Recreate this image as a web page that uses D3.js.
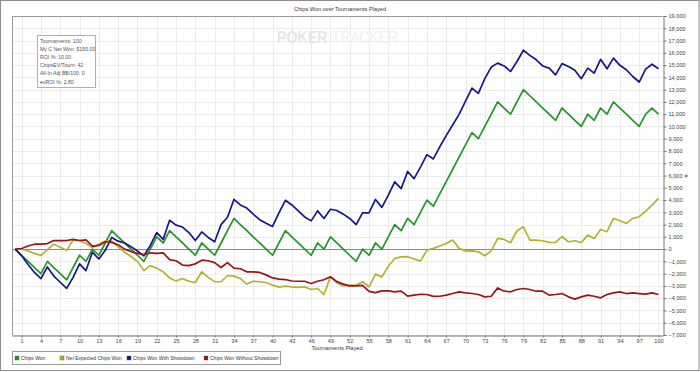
<!DOCTYPE html>
<html>
<head>
<meta charset="utf-8">
<script src="https://cdn.jsdelivr.net/npm/d3@7"></script>
<style>
  body { margin: 0; background: #fff; }
  svg { display: block; font-family: "Liberation Sans", Arial, sans-serif; }
</style>
</head>
<body>
<svg id="chart"></svg>
<script>
// tournaments 0..100
var tournaments = d3.range(0, 101);

var chipsWon = [0, -500, -1000, -1500, -2000, -1000, -1500, -2000, -2500, -1500,
  -500, -1000, 0, -500, 500, 1500, 1000, 500, 0, -500,
  -1000, 0, 1000, 500, 1500, 1000, 500, 0, -500, 500,
  0, -500, 500, 1500, 2500, 2000, 1500, 1000, 500, 0,
  -500, 500, 1500, 1000, 500, 0, -500, 500, 0, 1000,
  500, 0, -500, -1000, 0, -500, 500, 0, 1000, 2000,
  1500, 2500, 2000, 3000, 4000, 3500, 4500, 5500, 6500, 7500,
  8500, 9500, 9000, 10000, 11000, 12000, 11500, 11000, 12000, 13000,
  12500, 12000, 11500, 11000, 10500, 11500, 11000, 10500, 10000, 11000,
  10500, 11500, 11000, 12000, 11500, 11000, 10500, 10000, 11000, 11500,
  11000];

var netExpected = [0, 0, -150, -350, -520, -50, 400, 150, -100, 730,
  700, 460, 120, 400, 680, 650, 180, -250, -600, -1000,
  -1750, -1350, -1550, -1850, -2350, -2600, -2400, -2620, -2720, -1850,
  -2300, -2650, -2660, -2150, -2200, -2400, -2850, -2620, -2660, -2720,
  -2940, -3100, -3020, -3080, -3120, -3080, -3290, -3210, -3700, -2260,
  -2750, -3000, -2950, -2940, -2660, -3070, -2040, -2260, -1400, -760,
  -630, -620, -800, -980, -80, 60, 250, 460, 740, 60,
  -160, -140, -220, -540, -140, 870, 790, 520, 1500, 1820,
  740, 740, 680, 550, 540, 1010, 600, 680, 540, 1140,
  870, 1600, 1420, 2500, 2310, 2100, 2500, 2640, 3100, 3590,
  4140];

var withShowdown = [0, -550, -1250, -1900, -2400, -1450, -2200, -2700, -3200, -2300,
  -1200, -1750, -250, -800, -100, 950, 650, 500, 200, -150,
  -550, 300, 1350, 800, 2350, 1950, 1800, 1350, 700, 1400,
  950, 600, 2000, 2600, 4050, 3600, 3350, 2850, 2400, 2100,
  1850, 2950, 3980, 3600, 3120, 2620, 2300, 3120, 2500, 3250,
  3150, 2850, 2500, 2000, 2950, 2950, 4050, 3400, 4400, 5480,
  4930, 6330, 5750, 6680, 7700, 7350, 8340, 9250, 10120, 10980,
  12060, 13120, 12700, 13890, 14840, 15160, 14930, 14480, 15290, 16210,
  15790, 15430, 14930, 14750, 14200, 15120, 14890, 14580, 13890, 14750,
  14340, 15470, 14700, 15570, 14980, 14620, 14070, 13620, 14670, 15070,
  14700];

var withoutShowdown = [0, 50, 250, 400, 400, 450, 700, 700, 700, 800,
  700, 750, 250, 300, 600, 550, 350, 0, -200, -350,
  -450, -300, -350, -300, -850, -950, -1300, -1350, -1200, -900,
  -950, -1100, -1500, -1100, -1550, -1600, -1850, -1850, -1900, -2100,
  -2350, -2450, -2480, -2600, -2620, -2620, -2800, -2620, -2500, -2250,
  -2650, -2850, -3000, -3000, -2950, -3450, -3550, -3400, -3400, -3480,
  -3430, -3830, -3750, -3680, -3700, -3850, -3840, -3750, -3620, -3480,
  -3560, -3620, -3700, -3890, -3840, -3160, -3430, -3480, -3290, -3210,
  -3290, -3430, -3430, -3750, -3700, -3620, -3890, -4080, -3890, -3750,
  -3840, -3970, -3700, -3570, -3480, -3620, -3570, -3620, -3670, -3570,
  -3700];

var seriesNames = ["Chips Won", "Net Expected Chips Won", "Chips Won With Showdown", "Chips Won Without Showdown"];
var seriesColors = ["#22962a", "#b4b22c", "#15168a", "#9c1419"];

var xTicks = d3.range(1, 101, 3);
var yTicks = d3.range(-7000, 19001, 1000);

var statLines = ["Tournaments: 100", "My C Net Won: $150.00", "ROI %: 10.00",
  "ChipsEV/Tourn: 42", "All-In Adj BB/100: 0", "evROI %: 2.80"];

(function chipsChart() {
    var svg = d3.select("#chart").attr("width", 700).attr("height", 372);
    var left = 12, right = 663, top = 16, bottom = 335;

    var x = d3.scaleLinear().domain([-0.5, 100.7]).range([left, right]);
    var y = d3.scaleLinear().domain([-7000, 19000]).range([bottom, top]);

    // outer frame
    svg.append("rect")
        .attr("x", 0.5).attr("y", 0.5)
        .attr("width", 698.5).attr("height", 370)
        .attr("fill", "#fff").attr("stroke", "#8c8c8c");

    svg.append("text")
        .attr("x", 340).attr("y", 11)
        .attr("text-anchor", "middle")
        .attr("font-size", 5.6).attr("fill", "#333")
        .text("Chips Won over Tournaments Played");

    // grid
    var grid = svg.append("g").attr("stroke", "#ebebeb").attr("stroke-width", 1);
    grid.selectAll("line.h").data(yTicks).enter().append("line")
        .attr("x1", left).attr("x2", right)
        .attr("y1", function(d) { return Math.round(y(d)) + 0.5; })
        .attr("y2", function(d) { return Math.round(y(d)) + 0.5; });
    grid.selectAll("line.v").data(xTicks).enter().append("line")
        .attr("y1", top).attr("y2", bottom)
        .attr("x1", function(d) { return Math.round(x(d)) + 0.5; })
        .attr("x2", function(d) { return Math.round(x(d)) + 0.5; });

    // watermark (stretched vertically so the narrower font keeps its height)
    svg.append("text")
        .attr("transform", "translate(277,43) scale(1,1.2)")
        .attr("font-size", 14.2).attr("font-weight", "bold")
        .attr("fill", "#e6e6e6")
        .text("POKER");
    svg.append("text")
        .attr("transform", "translate(332,43) scale(1,1.2)")
        .attr("font-size", 13.8)
        .attr("fill", "#efefef")
        .text("TRACKER");

    // frame lines
    svg.append("line").attr("x1", left).attr("x2", right).attr("y1", top + 0.5).attr("y2", top + 0.5)
        .attr("stroke", "#999");
    svg.append("line").attr("x1", left + 0.5).attr("x2", left + 0.5).attr("y1", top).attr("y2", bottom)
        .attr("stroke", "#999");

    // zero line
    svg.append("line")
        .attr("x1", left).attr("x2", right)
        .attr("y1", Math.round(y(0)) + 0.5).attr("y2", Math.round(y(0)) + 0.5)
        .attr("stroke", "#8a8a8a");

    // axes
    var yAxis = svg.append("g")
        .attr("transform", "translate(" + (right + 0.5) + ",0)")
        .call(d3.axisRight(y).tickValues(yTicks).tickFormat(d3.format(",")).tickSize(3).tickPadding(2));
    yAxis.selectAll("text").attr("font-size", 5.6).attr("fill", "#444").attr("font-family", "Liberation Sans, Arial, sans-serif");
    yAxis.selectAll("line, path").attr("stroke", "#777");

    var xAxis = svg.append("g")
        .attr("transform", "translate(0," + (bottom + 0.5) + ")")
        .call(d3.axisBottom(x).tickValues(xTicks).tickSize(2).tickPadding(2).tickSizeOuter(0));
    xAxis.selectAll("text").attr("font-size", 5.6).attr("fill", "#444").attr("font-family", "Liberation Sans, Arial, sans-serif");
    xAxis.selectAll("line, path").attr("stroke", "#777");

    svg.append("text")
        .attr("x", 337).attr("y", 350)
        .attr("text-anchor", "middle")
        .attr("font-size", 5.6).attr("fill", "#333")
        .text("Tournaments Played");

    svg.append("text")
        .attr("x", 686).attr("y", 178)
        .attr("text-anchor", "middle")
        .attr("font-size", 5.6).attr("fill", "#444")
        .text("#");

    // series lines
    var allSeries = [chipsWon, netExpected, withShowdown, withoutShowdown];
    var line = d3.line()
        .x(function(d, i) { return x(tournaments[i]); })
        .y(function(d) { return y(d); });

    svg.append("g").selectAll("path")
        .data(allSeries)
        .enter().append("path")
        .attr("d", line)
        .attr("fill", "none")
        .attr("stroke", function(d, i) { return seriesColors[i]; })
        .attr("stroke-width", 1.7)
        .attr("stroke-linejoin", "round");

    // stats box
    var stats = svg.append("g");
    stats.append("rect")
        .attr("x", 37.5).attr("y", 35.5)
        .attr("width", 58).attr("height", 52)
        .attr("fill", "#fff").attr("stroke", "#b0b0b0");
    stats.selectAll("text").data(statLines).enter().append("text")
        .attr("x", 40)
        .attr("y", function(d, i) { return 42.6 + i * 8.2; })
        .attr("font-size", 5.2).attr("fill", "#555")
        .text(function(d) { return d; });

    // legend
    var legendX = [15, 60, 127, 204];
    var legend = svg.append("g");
    legend.append("rect")
        .attr("x", 12.5).attr("y", 351.5)
        .attr("width", 268).attr("height", 13)
        .attr("fill", "#fff").attr("stroke", "#9a9a9a");
    var item = legend.selectAll("g.item").data(seriesNames).enter().append("g")
        .attr("transform", function(d, i) { return "translate(" + legendX[i] + ",356)"; });
    item.append("rect")
        .attr("width", 4).attr("height", 4)
        .attr("fill", function(d, i) { return seriesColors[i]; })
        .attr("stroke", "#555").attr("stroke-width", 0.4);
    item.append("text")
        .attr("x", 6).attr("y", 4)
        .attr("font-size", 5.0).attr("fill", "#333")
        .text(function(d) { return d; });
}());
</script>
</body>
</html>
